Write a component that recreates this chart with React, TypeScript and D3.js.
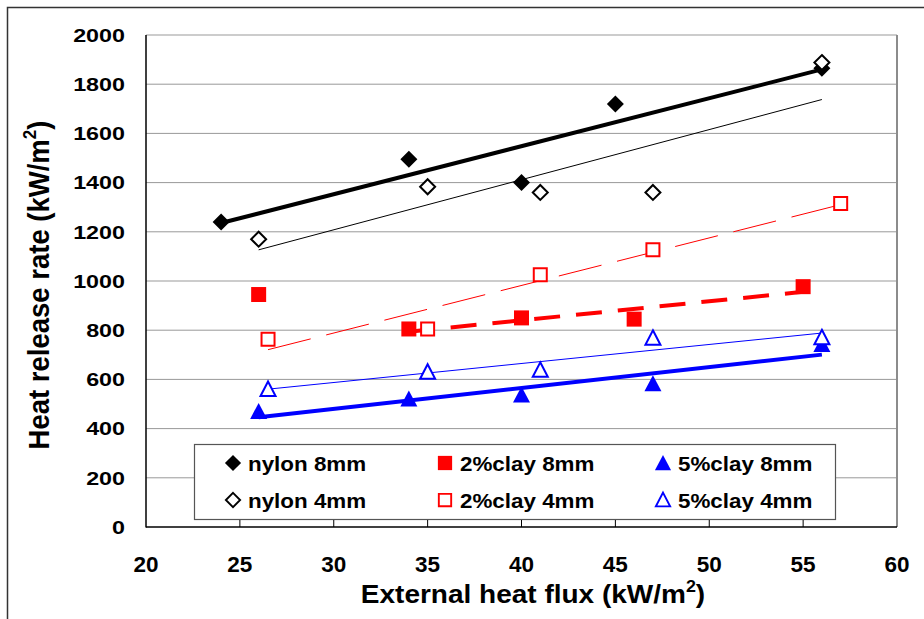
import React from 'react';
import * as d3 from 'd3';

// data
const nylon8X = [24, 34, 40, 45, 56];
const nylon8Y = [1240, 1495, 1400, 1720, 1865];
const nylon4X = [26, 35, 41, 47, 56];
const nylon4Y = [1170, 1383, 1360, 1360, 1888];
const clay2_8X = [26, 34, 40, 46, 55];
const clay2_8Y = [945, 805, 850, 845, 977];
const clay2_4X = [26.5, 35, 41, 47, 57];
const clay2_4Y = [763, 805, 1025, 1127, 1315];
const clay5_8X = [26, 34, 40, 47, 56];
const clay5_8Y = [470, 520, 537, 582, 742];
const clay5_4X = [26.5, 35, 41, 47, 56];
const clay5_4Y = [560, 630, 638, 768, 770];

const xTicks = [20, 25, 30, 35, 40, 45, 50, 55, 60];
const yTicks = [0, 200, 400, 600, 800, 1000, 1200, 1400, 1600, 1800, 2000];

const FONT = '"Liberation Sans", Arial, Helvetica, sans-serif';

type Marker = 'diamond' | 'square' | 'triangle';

const series = [
  { name: 'nylon 8mm', xs: nylon8X, ys: nylon8Y, color: '#000', marker: 'diamond' as Marker, filled: true, lw: 4, dash: null, skip: 0 },
  { name: 'nylon 4mm', xs: nylon4X, ys: nylon4Y, color: '#000', marker: 'diamond' as Marker, filled: false, lw: 1, dash: null, skip: 0 },
  { name: '2%clay 8mm', xs: clay2_8X, ys: clay2_8Y, color: '#ff0000', marker: 'square' as Marker, filled: true, lw: 4, dash: '26 16', skip: 1 },
  { name: '2%clay 4mm', xs: clay2_4X, ys: clay2_4Y, color: '#ff0000', marker: 'square' as Marker, filled: false, lw: 1, dash: '44 16', skip: 0 },
  { name: '5%clay 8mm', xs: clay5_8X, ys: clay5_8Y, color: '#0000ff', marker: 'triangle' as Marker, filled: true, lw: 4, dash: null, skip: 0 },
  { name: '5%clay 4mm', xs: clay5_4X, ys: clay5_4Y, color: '#0000ff', marker: 'triangle' as Marker, filled: false, lw: 1, dash: null, skip: 0 },
];

// linear least squares trend, drawn between first and last used point
function trend(xs: number[], ys: number[]) {
  const mx = d3.mean(xs)!;
  const my = d3.mean(ys)!;
  let sxy = 0, sxx = 0;
  xs.forEach((x, i) => { sxy += (x - mx) * (ys[i] - my); sxx += (x - mx) * (x - mx); });
  const b = sxy / sxx;
  const a = my - b * mx;
  const [x0, x1] = d3.extent(xs) as [number, number];
  return [[x0, a + b * x0], [x1, a + b * x1]] as [number, number][];
}

function markerPath(type: Marker, filled: boolean) {
  const p = d3.path();
  if (type === 'diamond') {
    const r = filled ? 8.5 : 7.5;
    p.moveTo(0, -r); p.lineTo(r, 0); p.lineTo(0, r); p.lineTo(-r, 0); p.closePath();
  } else if (type === 'square') {
    const r = filled ? 7.5 : 6.5;
    p.rect(-r, -r, 2 * r, 2 * r);
  } else {
    const w = filled ? 8.5 : 7.5;
    const h = filled ? 15 : 13.5;
    p.moveTo(0, -h / 2 - 1); p.lineTo(w, h / 2); p.lineTo(-w, h / 2); p.closePath();
  }
  return p.toString();
}

const App = () => {
  const width = 924;
  const height = 619;
  const left = 146, right = 897, top = 35, bottom = 527;

  const x = d3.scaleLinear().domain([20, 60]).range([left, right]);
  const y = d3.scaleLinear().domain([0, 2000]).range([bottom, top]);
  const line = d3.line<[number, number]>().x(d => x(d[0])).y(d => y(d[1]));

  const legendCols = [233, 445, 663];
  const legendRows = [463, 500];

  return (
    <svg width={width} height={height} style={{ position: 'absolute', left: 0, top: 0, background: '#fff' }} fontFamily={FONT} fontWeight="bold">
      <rect x={0} y={0} width={width} height={height} fill="#fff" />
      {/* outer frame */}
      <path d={`M7.5,${height}V7.5H${width}`} fill="none" stroke="#333" strokeWidth={1.5} />

      {/* gridlines */}
      {yTicks.filter(t => t > 0).map(t => (
        <line key={t} x1={left} x2={right} y1={y(t)} y2={y(t)} stroke="#999" strokeWidth={1} />
      ))}
      <line x1={right} x2={right} y1={top} y2={bottom} stroke="#8c8c8c" strokeWidth={2} />

      {/* trend lines */}
      {series.map(s => (
        <path key={'t' + s.name} d={line(trend(s.xs.slice(s.skip), s.ys.slice(s.skip)))!} fill="none"
          stroke={s.color} strokeWidth={s.lw} strokeDasharray={s.dash || undefined} />
      ))}

      {/* points */}
      {series.map(s => s.xs.map((v, i) => (
        <path key={s.name + i} d={markerPath(s.marker, s.filled)} transform={`translate(${x(v)},${y(s.ys[i])})`}
          fill={s.filled ? s.color : '#fff'} stroke={s.color} strokeWidth={s.filled ? 0 : 2} />
      )))}

      {/* legend */}
      <rect x={194.5} y={444.5} width={641} height={75} fill="#fff" stroke="#555" strokeWidth={1.2} />
      {series.map((s, i) => {
        const cx = legendCols[Math.floor(i / 2)];
        const cy = legendRows[i % 2];
        return (
          <g key={'l' + s.name}>
            <path d={markerPath(s.marker, s.filled)} transform={`translate(${cx},${cy}) scale(0.95)`}
              fill={s.filled ? s.color : '#fff'} stroke={s.color} strokeWidth={s.filled ? 0 : 2} />
            <text transform={`translate(${cx + 15},${cy + 7.5}) scale(1.12,1)`} fontSize={20} fill="#000">{s.name}</text>
          </g>
        );
      })}

      {/* axes */}
      <line x1={left} x2={left} y1={top} y2={bottom + 0.5} stroke="#000" strokeWidth={1.5} />
      <line x1={left} x2={right} y1={bottom} y2={bottom} stroke="#000" strokeWidth={1.5} />
      {xTicks.slice(1, -1).map(t => (
        <line key={'xt' + t} x1={x(t)} x2={x(t)} y1={bottom} y2={bottom - 7} stroke="#000" strokeWidth={1} />
      ))}
      {yTicks.map(t => (
        <text key={'yl' + t} transform={`translate(125,${y(t) + 6.7}) scale(1.26,1)`} textAnchor="end" fontSize={18.5} fill="#000">{t}</text>
      ))}
      {xTicks.map(t => (
        <text key={'xl' + t} x={x(t)} y={571.5} textAnchor="middle" fontSize={22.5} fill="#000">{t}</text>
      ))}

      {/* axis titles */}
      <g transform="translate(533,603) scale(1.12,1)">
        <text textAnchor="middle" fontSize={25} fill="#000">
          External heat flux (kW/m<tspan dy={-11} fontSize={16}>2</tspan><tspan dy={11}>)</tspan>
        </text>
      </g>
      <text transform="translate(49,285) rotate(-90) scale(1,1.06)" textAnchor="middle" fontSize={27.5} fill="#000">
        Heat release rate (kW/m<tspan dy={-12} fontSize={17}>2</tspan><tspan dy={12}>)</tspan>
      </text>
    </svg>
  );
};

export default App;
